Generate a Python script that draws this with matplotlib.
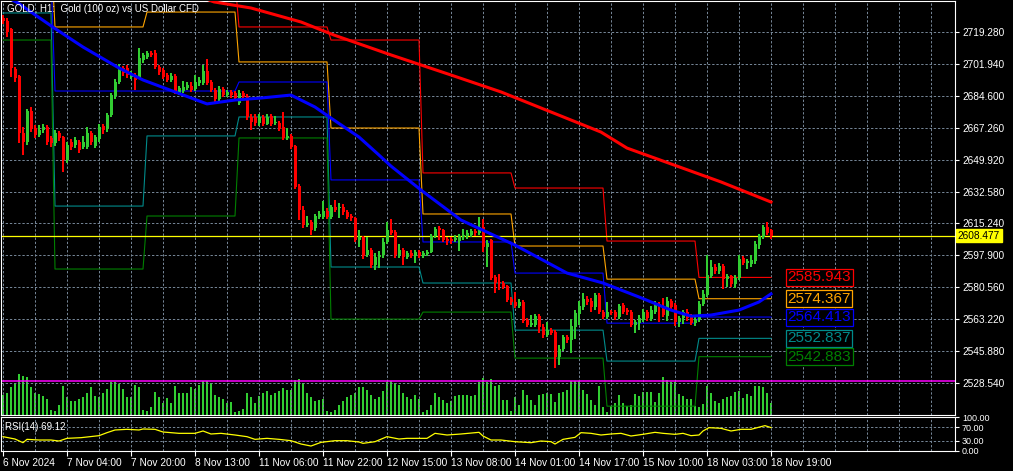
import matplotlib
matplotlib.use('Agg')
import matplotlib.pyplot as plt
import numpy as np

plt.rcParams['font.family'] = ['Liberation Sans', 'DejaVu Sans']

# H1 candles, 6 Nov 12:00 .. 18 Nov 19:00
opens = [2726.9, 2725.3, 2720.9, 2699.2, 2695.4, 2664.4, 2659.5, 2676.4, 2667.1, 2663.3,
         2666.0, 2667.7, 2661.7, 2659.0, 2664.4, 2662.2, 2649.7, 2659.5, 2657.9, 2659.5,
         2656.8, 2656.8, 2664.4, 2657.3, 2661.1, 2668.2, 2666.6, 2674.2, 2684.5, 2692.1,
         2699.7, 2699.7, 2694.8, 2695.9, 2694.3, 2704.1, 2705.7, 2707.9, 2707.9, 2700.3,
         2698.6, 2695.9, 2693.2, 2695.4, 2686.1, 2687.2, 2688.8, 2689.9, 2688.3, 2691.6,
         2691.6, 2698.1, 2692.1, 2687.8, 2682.9, 2688.3, 2685.0, 2686.7, 2686.1, 2680.7,
         2686.1, 2684.5, 2673.1, 2673.1, 2669.8, 2673.1, 2669.3, 2673.6, 2669.8, 2669.8,
         2667.7, 2661.7, 2662.8, 2657.3, 2635.6, 2622.6, 2614.4, 2616.0, 2612.8, 2618.8,
         2618.8, 2622.0, 2618.8, 2624.2, 2623.6, 2624.2, 2621.5, 2619.3, 2618.2, 2606.3,
         2607.9, 2598.1, 2600.8, 2592.7, 2597.0, 2598.1, 2605.2, 2611.7, 2610.6, 2598.1,
         2600.8, 2597.0, 2599.2, 2597.6, 2599.7, 2597.6, 2598.6, 2599.7, 2608.4, 2612.8,
         2611.7, 2606.8, 2606.8, 2606.3, 2605.7, 2607.9, 2608.4, 2609.0, 2611.1, 2610.0,
         2613.3, 2602.4, 2606.3, 2586.1, 2583.4, 2582.9, 2581.3, 2574.2, 2572.6, 2570.4,
         2572.6, 2562.8, 2560.1, 2560.1, 2564.9, 2559.0, 2554.6, 2557.3, 2556.2, 2542.7,
         2547.0, 2553.5, 2551.9, 2559.0, 2566.0, 2569.8, 2574.2, 2573.1, 2569.8, 2576.4,
         2567.1, 2564.4, 2567.1, 2567.1, 2564.4, 2570.9, 2568.2, 2567.1, 2560.1, 2561.2,
         2562.8, 2567.1, 2563.3, 2567.1, 2571.5, 2569.8, 2564.9, 2573.1, 2570.9, 2561.7,
         2563.9, 2567.1, 2564.4, 2561.2, 2562.8, 2571.5, 2576.4, 2586.7, 2591.6, 2589.4,
         2592.1, 2585.1, 2586.7, 2582.4, 2585.6, 2596.5, 2593.8, 2593.2, 2594.8, 2603.5,
         2607.9, 2613.3, 2611.7]
closes = [2725.3, 2719.3, 2699.7, 2694.3, 2664.4, 2659.5, 2676.4, 2666.6, 2663.3, 2666.0,
          2667.7, 2659.5, 2659.0, 2664.4, 2661.7, 2649.7, 2657.9, 2656.8, 2660.6, 2655.2,
          2659.5, 2664.4, 2659.5, 2662.2, 2667.7, 2666.0, 2674.2, 2685.0, 2692.1, 2700.3,
          2697.0, 2695.9, 2696.5, 2693.2, 2705.2, 2706.8, 2707.9, 2706.8, 2700.3, 2697.5,
          2694.8, 2693.2, 2695.4, 2686.7, 2688.8, 2689.4, 2690.5, 2687.8, 2692.1, 2693.2,
          2698.1, 2691.6, 2687.8, 2682.9, 2688.3, 2685.0, 2686.7, 2685.0, 2683.4, 2686.1,
          2683.9, 2673.1, 2670.4, 2669.8, 2673.1, 2669.3, 2673.1, 2669.3, 2670.4, 2666.6,
          2661.7, 2662.8, 2656.8, 2635.1, 2622.6, 2614.4, 2615.5, 2611.7, 2619.3, 2620.4,
          2622.0, 2618.8, 2624.2, 2622.6, 2624.2, 2621.5, 2618.8, 2618.2, 2606.3, 2607.9,
          2597.6, 2600.8, 2592.7, 2597.0, 2598.1, 2605.2, 2611.7, 2610.0, 2598.1, 2600.8,
          2597.0, 2599.2, 2597.6, 2599.7, 2597.6, 2599.2, 2599.7, 2608.4, 2612.2, 2611.7,
          2606.3, 2605.7, 2605.7, 2607.3, 2608.4, 2609.0, 2610.0, 2611.1, 2610.0, 2613.3,
          2602.4, 2604.6, 2585.6, 2582.9, 2582.9, 2580.7, 2573.6, 2572.6, 2570.4, 2572.6,
          2562.2, 2560.1, 2561.2, 2564.9, 2559.0, 2554.6, 2557.3, 2555.7, 2542.7, 2547.0,
          2553.5, 2551.9, 2559.5, 2566.6, 2570.4, 2574.2, 2572.6, 2569.8, 2576.4, 2567.1,
          2564.4, 2567.1, 2566.6, 2564.4, 2570.4, 2567.1, 2567.1, 2560.1, 2561.7, 2563.9,
          2567.1, 2563.9, 2568.2, 2571.5, 2569.8, 2565.5, 2573.1, 2569.8, 2561.7, 2563.9,
          2567.1, 2563.9, 2561.2, 2562.8, 2571.5, 2576.9, 2587.2, 2591.6, 2589.4, 2592.1,
          2585.1, 2586.7, 2582.4, 2585.6, 2595.9, 2593.8, 2594.8, 2595.4, 2604.1, 2608.4,
          2613.3, 2610.0, 2608.5]
highs = [2728.5, 2727.0, 2721.5, 2700.5, 2696.0, 2667.7, 2677.5, 2678.5, 2669.0, 2668.5,
         2669.5, 2668.5, 2662.8, 2666.0, 2665.5, 2663.0, 2659.5, 2661.0, 2662.0, 2660.5,
         2663.0, 2667.7, 2665.5, 2663.5, 2669.5, 2669.5, 2675.5, 2686.0, 2693.5, 2702.0,
         2701.0, 2701.5, 2698.0, 2697.0, 2710.6, 2708.0, 2709.0, 2709.0, 2709.5, 2701.5,
         2699.5, 2697.0, 2696.8, 2696.5, 2690.0, 2692.5, 2692.0, 2692.0, 2696.0, 2695.0,
         2701.4, 2704.6, 2693.0, 2689.0, 2690.0, 2689.5, 2688.0, 2688.0, 2687.0, 2687.5,
         2687.0, 2685.5, 2674.5, 2674.5, 2674.5, 2674.0, 2674.5, 2674.5, 2673.5, 2671.0,
         2675.8, 2667.0, 2664.0, 2658.0, 2636.5, 2625.0, 2619.5, 2617.0, 2620.5, 2622.0,
         2627.5, 2623.5, 2625.5, 2628.0, 2626.5, 2626.0, 2622.5, 2620.5, 2619.0, 2611.5,
         2608.5, 2608.0, 2602.0, 2599.0, 2600.5, 2607.5, 2616.0, 2617.5, 2611.5, 2604.0,
         2602.0, 2600.5, 2601.0, 2601.0, 2601.0, 2600.5, 2601.0, 2609.5, 2613.5, 2614.0,
         2612.5, 2608.0, 2608.0, 2609.0, 2609.5, 2612.0, 2611.5, 2612.5, 2612.5, 2618.7,
         2617.5, 2606.5, 2607.0, 2587.0, 2588.0, 2584.0, 2582.0, 2575.5, 2578.0, 2574.0,
         2573.5, 2564.0, 2565.5, 2566.0, 2566.0, 2560.5, 2561.5, 2558.5, 2557.5, 2549.0,
         2554.5, 2554.5, 2563.5, 2568.5, 2573.0, 2577.5, 2576.0, 2574.5, 2577.5, 2577.5,
         2568.0, 2572.5, 2568.5, 2568.5, 2571.5, 2572.0, 2569.5, 2568.0, 2563.0, 2565.5,
         2569.0, 2568.5, 2570.5, 2573.0, 2572.5, 2575.0, 2575.5, 2574.0, 2572.0, 2565.0,
         2568.5, 2569.0, 2566.0, 2564.5, 2573.0, 2579.0, 2598.1, 2595.5, 2593.0, 2594.0,
         2593.0, 2588.0, 2587.5, 2587.0, 2598.1, 2597.5, 2596.0, 2598.0, 2605.5, 2609.5,
         2614.5, 2616.0, 2612.5]
lows = [2723.8, 2716.8, 2694.8, 2692.0, 2659.0, 2652.4, 2658.0, 2665.0, 2661.5, 2662.0,
        2664.5, 2658.0, 2657.0, 2657.5, 2660.0, 2643.2, 2648.0, 2655.0, 2656.5, 2653.5,
        2655.5, 2655.5, 2658.0, 2656.0, 2659.5, 2664.0, 2665.0, 2673.0, 2683.0, 2691.0,
        2695.5, 2694.5, 2693.5, 2687.8, 2693.5, 2702.5, 2704.5, 2705.5, 2699.0, 2696.0,
        2693.5, 2692.0, 2692.0, 2685.5, 2685.0, 2686.0, 2687.5, 2686.5, 2687.0, 2690.0,
        2690.5, 2690.5, 2686.5, 2681.5, 2681.5, 2684.0, 2684.0, 2683.5, 2682.0, 2679.5,
        2682.5, 2671.5, 2666.0, 2668.0, 2668.0, 2668.0, 2668.5, 2668.0, 2668.5, 2665.5,
        2660.5, 2660.5, 2655.5, 2634.0, 2617.0, 2613.0, 2613.5, 2609.0, 2611.0, 2617.5,
        2617.5, 2617.5, 2617.5, 2621.5, 2618.0, 2620.0, 2617.5, 2616.5, 2605.0, 2602.5,
        2596.0, 2597.0, 2591.0, 2590.0, 2591.0, 2596.5, 2604.0, 2609.0, 2596.5, 2596.5,
        2592.5, 2596.0, 2596.5, 2594.0, 2596.5, 2596.5, 2597.5, 2599.0, 2607.5, 2606.0,
        2605.0, 2603.5, 2604.0, 2605.0, 2600.5, 2606.5, 2607.0, 2608.0, 2608.5, 2609.0,
        2599.5, 2591.5, 2584.5, 2577.5, 2579.0, 2579.5, 2572.5, 2571.0, 2569.5, 2569.5,
        2561.0, 2559.0, 2559.0, 2559.0, 2555.5, 2553.0, 2553.5, 2554.5, 2536.7, 2538.5,
        2546.0, 2550.5, 2545.0, 2552.5, 2560.0, 2568.5, 2571.0, 2567.0, 2568.5, 2566.0,
        2563.5, 2563.5, 2565.5, 2563.0, 2563.5, 2566.0, 2565.5, 2559.0, 2555.5, 2557.5,
        2561.5, 2562.5, 2562.0, 2566.0, 2561.5, 2564.5, 2562.5, 2568.0, 2559.5, 2559.0,
        2560.5, 2562.5, 2560.0, 2559.5, 2561.5, 2570.5, 2575.5, 2585.5, 2588.0, 2588.0,
        2579.5, 2580.5, 2581.0, 2580.0, 2584.5, 2592.5, 2590.5, 2591.5, 2593.5, 2601.5,
        2607.0, 2609.0, 2607.0]
volumes = [2000,
           2200, 2800, 3200, 4100, 3900, 3800, 2800, 2200, 2100, 1900,
           1600, 500, 400, 1000, 2900, 1800, 1400, 1400, 1600, 1800,
           2200, 2800, 1900, 1800, 2200, 2600, 3300, 3300, 3100, 2600,
           1800, 1800, 3000, 2800, 500, 400, 800, 2300, 1800, 1200,
           1700, 1200, 2900, 2200, 2200, 2200, 2800, 2600, 3000, 3400,
           3400, 3200, 2000, 1800, 1600, 1200, 1300, 300, 400, 600,
           2200, 1800, 1200, 1900, 2200, 2400, 2000, 2200, 2400, 2700,
           2500, 2500, 3500, 3600, 3200, 2200, 1800, 1400, 1500, 1600,
           400, 300, 500, 1000, 1400, 1800, 2000, 2200, 2800, 2800,
           2500, 2000, 1600, 1800, 2400, 3300, 3400, 3200, 3000, 2200,
           1800, 1600, 2000, 1600, 300, 500, 1000, 2200, 1800, 1500,
           1200, 1400, 1900, 2000, 2000, 2000, 1900, 2000, 3300, 3700,
           3300, 3600, 2900, 3000,
           1500, 1500, 400, 1800, 1000, 2500, 2000, 1500, 1000, 2000,
           2100, 2200, 2100, 1300, 2200, 2300, 2500, 3400, 3400, 3400,
           2500, 2100, 1500, 1000, 2900, 800, 300, 900, 1200, 2000,
           1200, 900, 1000, 2100, 1900, 2300, 2300, 2300, 1300, 2200,
           3800, 3500, 3300, 3300, 2100, 1900, 1600, 1600, 900, 800,
           1100, 2900, 2200, 1400, 1200, 1600, 1800, 1900, 2300, 2400,
           1700, 2100, 1900, 2900, 2900, 2800, 2200, 1200]

# moving averages (bar index, price)
blue_ma_x = [0, 3.75, 12.75, 20, 29, 35, 43, 51, 58, 64.5, 72, 78, 82, 89, 94, 97,
             104.5, 114.5, 128, 141, 150, 159, 167, 172, 177, 184, 189, 192]
blue_ma = [2739.4, 2735.0, 2721.5, 2711.1, 2699.7, 2693.2, 2686.7, 2680.2, 2682.3, 2683.4,
           2685.0, 2678.5, 2672.5, 2662.2, 2652.4, 2646.4, 2633.4, 2617.1, 2603.5, 2588.3,
           2582.9, 2575.3, 2568.2, 2564.9, 2565.5, 2568.2, 2572.6, 2577.0]
red_ma_x = [45, 52.75, 62, 74.5, 82.75, 97, 112, 124.5, 137, 149.5, 156, 167, 179.5, 192]
red_ma = [2742.1, 2735.6, 2732.3, 2724.7, 2717.6, 2706.8, 2695.9, 2686.7, 2675.8, 2664.9,
          2656.2, 2647.6, 2637.8, 2626.9]

# daily levels
day_start = [0, 13, 36, 59, 82, 105, 128, 151, 174]
lvl_red = [2780.1, 2758.4, 2747.5, 2722.0, 2714.9, 2642.7, 2634.5, 2605.7, 2585.943]
lvl_orange = [2763.8, 2722.0, 2730.1, 2703.0, 2667.1, 2620.4, 2603.0, 2585.0, 2574.367]
lvl_blue = [2750.3, 2687.2, 2687.2, 2692.1, 2638.9, 2605.2, 2588.3, 2561.1, 2564.413]
lvl_teal = [2729.6, 2624.7, 2662.8, 2673.1, 2591.6, 2582.9, 2557.3, 2540.5, 2552.837]
lvl_green = [2714.9, 2590.5, 2619.3, 2661.7, 2563.3, 2567.1, 2542.1, 2516.0, 2542.883]

rsi_x = [0, 3, 5, 6, 9, 12, 14, 16, 19.5, 24, 26, 28, 31, 34, 35, 38, 40, 44, 48, 50,
         52, 54.5, 58, 61, 63, 66, 69, 72, 74.5, 77, 79.5, 83, 86, 89, 90, 93, 96, 99, 101, 106,
         108, 111, 114.5, 119, 120, 122, 124.5, 128, 132, 134.5, 137, 138, 140, 143, 144.5, 147,
         149.5, 152, 154.5, 157, 160, 163, 165, 168, 170, 172, 174, 175, 176.5, 179.5,
         182, 184.5, 187, 189.5, 190.5, 192]
rsi = [42, 35, 24, 34, 32, 32, 29, 37, 39, 45, 54, 62, 64, 62, 65, 64, 56, 52, 52, 59,
       50, 52, 47, 42, 34, 37, 34, 30, 20, 14, 25, 30, 30, 26, 22, 27, 42, 35, 37, 37,
       52, 47, 50, 55, 44, 32, 32, 27, 24, 29, 27, 20, 34, 40, 54, 52, 47, 50, 52, 44,
       49, 55, 52, 49, 52, 45, 47, 59, 69, 67, 59, 64, 64, 72, 75, 69.12]

last_price = 2608.477
hline_price = 2529.8
price_ticks = [2528.54, 2545.88, 2563.22, 2580.56, 2597.90, 2615.24, 2632.58,
               2649.92, 2667.26, 2684.60, 2701.94, 2719.28]
date_ticks = list(range(0, 193, 16))
date_labels = ['6 Nov 2024', '7 Nov 04:00', '7 Nov 20:00', '8 Nov 13:00', '11 Nov 06:00',
               '11 Nov 22:00', '12 Nov 15:00', '13 Nov 08:00', '14 Nov 01:00',
               '14 Nov 17:00', '15 Nov 10:00', '18 Nov 03:00', '18 Nov 19:00']

W, H = 1013, 471
GRID = '#778899'
DASH = (0, (2.4, 1.9))


def rect(l, t, r, b):
    return [l / W, 1 - b / H, (r - l) / W, (b - t) / H]


fig = plt.figure(figsize=(W / 100, H / 100), dpi=100, facecolor='black')
XL = (-0.5, 238)

# volume, behind the price panel
axv = fig.add_axes(rect(1, 1, 955, 415))
axv.set_facecolor('black')
x = np.arange(len(closes))
axv.bar(x, volumes, width=0.3, color='#32cd32', linewidth=0, antialiased=False)
axv.set_xlim(*XL)
axv.set_ylim(0, 41400)
axv.set_xticks([])
axv.set_yticks([])
for s in axv.spines.values():
    s.set_visible(False)

ax = fig.add_axes(rect(1, 1, 955, 415))
ax.patch.set_visible(False)
ax.set_xlim(*XL)
ax.set_ylim(2511.2, 2736.1)

for gx in range(0, 240, 8):
    ax.axvline(gx, color=GRID, lw=0.7, ls=DASH, zorder=0.5)
for gy in price_ticks:
    ax.axhline(gy, color=GRID, lw=0.7, ls=DASH, zorder=0.5)

o = np.array(opens); c = np.array(closes)
h = np.array(highs); l = np.array(lows)
col = np.where(c >= o, '#32cd32', '#ff0000')
ax.bar(x, h - l, bottom=l, width=0.3, color=col, linewidth=0, antialiased=False, zorder=3)
ax.bar(x, np.maximum(np.abs(c - o), 0.45), bottom=np.minimum(o, c), width=0.75,
       color=col, linewidth=0, zorder=3)

# daily levels as step lines
idx = np.searchsorted(day_start, x, side='right') - 1
levels = [(lvl_red, '#ff0000'), (lvl_orange, '#ffa500'), (lvl_blue, '#0000ff'),
          (lvl_teal, '#008b8b'), (lvl_green, '#008000')]
for vals, cc in levels:
    ax.plot(x, np.array(vals)[idx], color=cc, lw=0.8, zorder=2)
    ax.text(196.1, vals[-1], f'{vals[-1]:.3f}', color=cc, fontsize=11, va='center',
            ha='left', zorder=6,
            bbox=dict(boxstyle='square,pad=0.1', fc='black', ec=cc, lw=0.9))

ax.plot(red_ma_x, red_ma, color='#ff0000', lw=2.2, zorder=4)
ax.plot(blue_ma_x, blue_ma, color='#0000ff', lw=2.2, zorder=4)

ax.axhline(last_price, color='#ffff00', lw=0.9, zorder=2.5)
ax.axhline(hline_price, color='#ff00ff', lw=1.1, zorder=2.5)

ax.yaxis.tick_right()
ax.set_yticks(price_ticks, labels=[f'{p:.3f}' for p in price_ticks])
ax.tick_params(axis='y', colors='white', labelsize=7.3, length=3, width=0.8, pad=2)
ax.tick_params(axis='x', bottom=False, labelbottom=False)
for s in ax.spines.values():
    s.set_color('white')
    s.set_linewidth(0.8)

ax.text(1.003, last_price, f'{last_price:.3f}', transform=ax.get_yaxis_transform(),
        fontsize=7.3, color='black', va='center', ha='left', clip_on=False, zorder=7,
        bbox=dict(boxstyle='square,pad=0.15', fc='#ffff00', ec='#ffff00'))

fig.text(7 / W, 1 - 9 / H, 'GOLD, H1:  Gold (100 oz) vs US Dollar CFD', color='white',
         fontsize=7, va='center')

# RSI panel
ax2 = fig.add_axes(rect(1, 417.3, 955, 450.7))
ax2.set_facecolor('black')
ax2.set_xlim(*XL)
ax2.set_ylim(0, 100)
for gx in range(0, 240, 8):
    ax2.axvline(gx, color=GRID, lw=0.7, ls=DASH, zorder=0.5)
for lv in (30, 70):
    ax2.axhline(lv, color=GRID, lw=0.7, ls=DASH, zorder=0.5)
ax2.plot(rsi_x, rsi, color='#ffff00', lw=0.9, zorder=3)
ax2.yaxis.tick_right()
ax2.set_yticks([0, 30, 70, 100], labels=['0.00', '30.00', '70.00', '100.00'])
ax2.tick_params(axis='y', colors='white', labelsize=6.5, length=3, width=0.8, pad=2)
ax2.set_xticks(date_ticks, labels=date_labels)
ax2.tick_params(axis='x', colors='white', labelsize=7.3, length=3.5, width=0.8, pad=1.5)
for lbl in ax2.get_xticklabels():
    lbl.set_horizontalalignment('left')
for s in ax2.spines.values():
    s.set_color('white')
    s.set_linewidth(0.8)
fig.text(5 / W, 1 - 427 / H, 'RSI(14) 69.12', color='white', fontsize=7, va='center')

fig.savefig('out.png', dpi=100, facecolor='black')
